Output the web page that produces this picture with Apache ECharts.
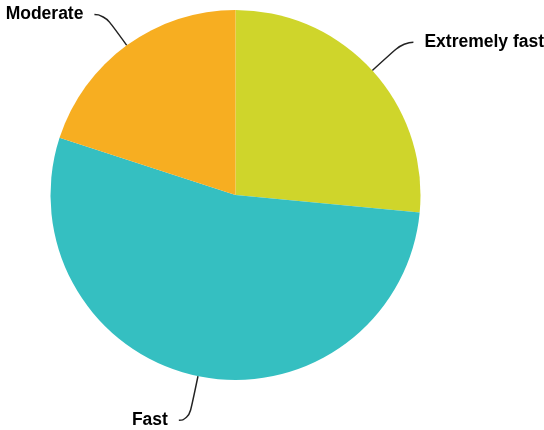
<!DOCTYPE html>
<html>
<head>
<meta charset="utf-8">
<script src="https://cdn.jsdelivr.net/npm/echarts@6/dist/echarts.min.js"></script>
<style>html,body{margin:0;padding:0;background:#fff;}#c{width:544px;height:430px;}</style>
</head>
<body>
<div id="c"></div>
<script>
const categories = ['Extremely fast', 'Fast', 'Moderate'];
const values = [26.5, 53.5, 20.0];
const colors = ['#cfd52b', '#35bfc1', '#f7ae21'];
const lineLengths = [42, 45, 38];

const chart = echarts.init(document.getElementById('c'), null, {renderer: 'canvas'});
chart.setOption({
  animation: false,
  backgroundColor: '#ffffff',
  series: [{
    type: 'pie',
    center: [235.5, 195],
    radius: [0, 185],
    startAngle: 90,
    clockwise: true,
    avoidLabelOverlap: false,
    bleedMargin: 0,
    data: categories.map((c, i) => ({
      name: c, value: values[i], itemStyle: {color: colors[i]},
      labelLine: {length: lineLengths[i]}
    })),
    itemStyle: {borderWidth: 0},
    label: {
      show: true,
      formatter: '{b}',
      color: '#000',
      fontFamily: 'Liberation Sans, Arial, sans-serif',
      fontWeight: 'bold',
      fontSize: 17.5,
      distanceToLabelLine: 11,
      overflow: 'none'
    },
    labelLine: {
      show: true,
      length2: 10,
      smooth: 0.6,
      lineStyle: {color: '#222', width: 1.5}
    },
    emphasis: {disabled: true}
  }]
});
</script>
</body>
</html>
